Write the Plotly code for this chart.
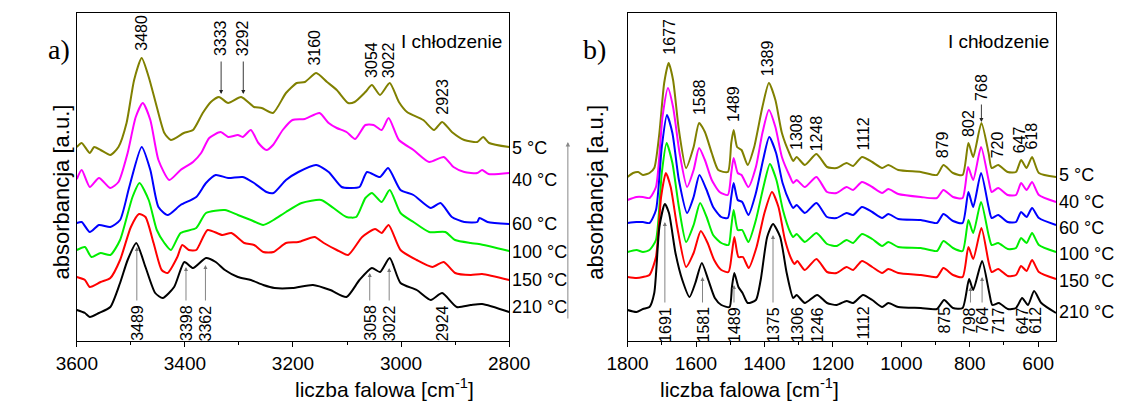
import plotly.graph_objects as go

# ---- panel a) 3600-2800 cm-1 ----
wn_a_5 = [3600, 3591, 3576, 3568, 3556, 3538, 3523, 3508, 3494, 3480, 3467, 3452, 3438, 3426, 3402, 3385, 3367, 3352, 3337, 3320,
          3296, 3272, 3258, 3237, 3213, 3193, 3178, 3157, 3137, 3119, 3098, 3086, 3066, 3054, 3039, 3021, 3004, 2989, 2959, 2939,
          2924, 2906, 2883, 2859, 2848, 2837, 2800]
ab_a_5 = [1.95, 1.99, 1.89, 1.95, 1.92, 1.87, 1.95, 2.19, 2.62, 2.84, 2.65, 2.35, 2.09, 2.02, 2.09, 2.12, 2.29, 2.40, 2.45, 2.39,
          2.45, 2.35, 2.34, 2.29, 2.49, 2.59, 2.60, 2.69, 2.60, 2.52, 2.39, 2.40, 2.50, 2.57, 2.47, 2.59, 2.40, 2.30, 2.22, 2.12,
          2.20, 2.10, 2.02, 2.00, 2.05, 1.99, 1.95]

wn_a_40 = [3600, 3591, 3576, 3559, 3538, 3523, 3506, 3491, 3478, 3464, 3449, 3429, 3408, 3385, 3370, 3355, 3334, 3320, 3302, 3293,
           3278, 3264, 3249, 3237, 3219, 3201, 3178, 3151, 3134, 3119, 3101, 3085, 3066, 3051, 3036, 3023, 3004, 2977, 2948, 2921,
           2903, 2883, 2859, 2850, 2838, 2800]
ab_a_40 = [1.63, 1.72, 1.55, 1.64, 1.54, 1.60, 1.89, 2.25, 2.39, 2.22, 1.82, 1.62, 1.72, 1.80, 1.89, 2.04, 2.10, 2.05, 2.07, 2.05,
           2.12, 1.99, 1.92, 1.97, 2.12, 2.22, 2.23, 2.29, 2.19, 2.14, 2.10, 2.03, 2.17, 2.17, 2.12, 2.24, 2.02, 1.92, 1.80, 1.85,
           1.75, 1.70, 1.69, 1.72, 1.68, 1.69]

wn_a_60 = [3600, 3591, 3576, 3559, 3538, 3520, 3503, 3480, 3464, 3449, 3432, 3408, 3379, 3361, 3343, 3320, 3293, 3272, 3249, 3236,
           3213, 3190, 3157, 3134, 3110, 3095, 3077, 3063, 3039, 3024, 3001, 2977, 2945, 2927, 2906, 2883, 2859, 2855, 2840, 2800]
ab_a_60 = [1.19, 1.20, 1.10, 1.17, 1.15, 1.22, 1.55, 1.95, 1.72, 1.35, 1.27, 1.37, 1.45, 1.59, 1.67, 1.64, 1.65, 1.59, 1.50, 1.49,
           1.62, 1.70, 1.77, 1.70, 1.55, 1.54, 1.55, 1.70, 1.65, 1.74, 1.52, 1.47, 1.34, 1.39, 1.25, 1.20, 1.20, 1.24, 1.20, 1.18]

wn_a_100 = [3600, 3585, 3573, 3556, 3538, 3520, 3497, 3484, 3467, 3452, 3438, 3426, 3408, 3379, 3361, 3326, 3302, 3278, 3255, 3236,
            3213, 3184, 3148, 3125, 3101, 3083, 3066, 3054, 3036, 3021, 3001, 2977, 2948, 2918, 2900, 2871, 2856, 2800]
ab_a_100 = [0.92, 0.95, 0.85, 0.89, 0.87, 1.02, 1.45, 1.59, 1.42, 1.12, 0.99, 0.92, 1.09, 1.14, 1.29, 1.32, 1.27, 1.22, 1.17, 1.22,
            1.30, 1.39, 1.42, 1.34, 1.25, 1.25, 1.44, 1.49, 1.40, 1.52, 1.29, 1.20, 1.10, 1.10, 1.02, 0.99, 0.98, 0.91]

wn_a_150 = [3600, 3585, 3576, 3556, 3538, 3520, 3500, 3485, 3473, 3458, 3443, 3432, 3414, 3405, 3393, 3379, 3358, 3331, 3314, 3290,
            3272, 3255, 3236, 3213, 3190, 3160, 3143, 3119, 3098, 3072, 3048, 3036, 3023, 3001, 2971, 2942, 2921, 2900, 2871, 2850,
            2800]
ab_a_150 = [0.65, 0.62, 0.55, 0.60, 0.64, 0.82, 1.15, 1.28, 1.25, 0.99, 0.72, 0.69, 0.85, 0.97, 0.92, 0.92, 1.12, 1.07, 1.09, 0.99,
            0.97, 0.90, 0.90, 0.99, 1.00, 1.05, 0.99, 0.92, 0.87, 1.05, 1.13, 1.09, 1.17, 0.92, 0.82, 0.75, 0.80, 0.69, 0.67, 0.68,
            0.62]

wn_a_210 = [3600, 3585, 3576, 3559, 3538, 3520, 3506, 3490, 3473, 3455, 3441, 3420, 3401, 3385, 3361, 3343, 3326, 3302, 3278, 3255,
            3234, 3201, 3163, 3131, 3101, 3077, 3054, 3039, 3021, 3001, 2971, 2945, 2924, 2897, 2871, 2850, 2800]
ab_a_210 = [0.32, 0.29, 0.25, 0.29, 0.35, 0.59, 0.82, 0.99, 0.75, 0.49, 0.44, 0.55, 0.80, 0.74, 0.84, 0.80, 0.72, 0.65, 0.62, 0.57,
            0.54, 0.54, 0.57, 0.52, 0.45, 0.62, 0.74, 0.70, 0.84, 0.59, 0.52, 0.42, 0.49, 0.35, 0.37, 0.38, 0.30]

# ---- panel b) 1800-550 cm-1 ----
wn_b_5 = [1800, 1784, 1769, 1755, 1736, 1722, 1707, 1693, 1680, 1667, 1650, 1629, 1607, 1591, 1574, 1554, 1535, 1507, 1497, 1490,
          1480, 1467, 1449, 1430, 1406, 1387, 1368, 1349, 1325, 1316, 1306, 1282, 1248, 1217, 1189, 1160, 1141, 1115, 1085, 1056,
          1038, 1009, 943, 896, 877, 849, 821, 804, 790, 766, 745, 736, 717, 689, 665, 650, 634, 618, 598, 548]
ab_b_5 = [1.65, 1.69, 1.70, 1.67, 1.69, 1.74, 2.09, 2.59, 2.79, 2.62, 2.12, 1.74, 1.95, 2.19, 2.10, 1.89, 1.72, 1.70, 1.99, 2.12,
          1.95, 1.92, 1.77, 1.95, 2.35, 2.59, 2.42, 2.09, 1.87, 1.81, 1.85, 1.77, 1.88, 1.75, 1.74, 1.79, 1.76, 1.85, 1.80, 1.74,
          1.77, 1.72, 1.70, 1.67, 1.77, 1.69, 1.67, 1.99, 1.85, 2.19, 1.89, 1.74, 1.77, 1.70, 1.70, 1.82, 1.74, 1.85, 1.69, 1.65]

wn_b_40 = [1800, 1774, 1755, 1736, 1717, 1698, 1682, 1667, 1648, 1626, 1607, 1591, 1574, 1554, 1531, 1507, 1497, 1490, 1478, 1467,
           1447, 1425, 1406, 1387, 1368, 1349, 1325, 1316, 1306, 1282, 1248, 1217, 1189, 1160, 1141, 1115, 1085, 1056, 1038, 1009,
           943, 896, 877, 849, 821, 805, 790, 767, 745, 736, 717, 689, 665, 650, 634, 618, 598, 548]
ab_b_40 = [1.42, 1.45, 1.45, 1.44, 1.55, 2.25, 2.54, 2.35, 1.89, 1.55, 1.72, 1.94, 1.82, 1.62, 1.50, 1.47, 1.69, 1.84, 1.69, 1.67,
           1.55, 1.75, 2.09, 2.32, 2.15, 1.85, 1.65, 1.59, 1.62, 1.55, 1.65, 1.50, 1.49, 1.55, 1.52, 1.60, 1.55, 1.49, 1.53, 1.48,
           1.45, 1.44, 1.52, 1.45, 1.44, 1.75, 1.62, 1.95, 1.62, 1.50, 1.54, 1.47, 1.47, 1.59, 1.52, 1.60, 1.47, 1.40]

wn_b_60 = [1800, 1774, 1755, 1736, 1717, 1700, 1685, 1669, 1650, 1626, 1607, 1590, 1569, 1550, 1526, 1507, 1497, 1490, 1478, 1465,
           1447, 1425, 1404, 1386, 1366, 1347, 1325, 1316, 1306, 1282, 1248, 1217, 1189, 1160, 1141, 1115, 1085, 1056, 1038, 1009,
           943, 896, 877, 849, 821, 804, 790, 767, 745, 736, 717, 689, 665, 650, 634, 618, 598, 548]
ab_b_60 = [1.19, 1.20, 1.20, 1.19, 1.32, 1.95, 2.27, 2.09, 1.62, 1.29, 1.45, 1.67, 1.52, 1.35, 1.25, 1.24, 1.45, 1.59, 1.42, 1.40,
           1.27, 1.49, 1.82, 2.05, 1.89, 1.59, 1.39, 1.34, 1.37, 1.29, 1.39, 1.25, 1.24, 1.29, 1.27, 1.35, 1.30, 1.24, 1.28, 1.23,
           1.22, 1.19, 1.28, 1.21, 1.19, 1.50, 1.35, 1.69, 1.35, 1.24, 1.27, 1.20, 1.20, 1.30, 1.25, 1.34, 1.24, 1.17]

wn_b_100 = [1800, 1774, 1755, 1736, 1717, 1700, 1686, 1669, 1650, 1629, 1607, 1588, 1569, 1550, 1526, 1505, 1497, 1490, 1478, 1465,
            1447, 1425, 1403, 1384, 1365, 1346, 1325, 1316, 1306, 1282, 1248, 1217, 1189, 1160, 1141, 1115, 1085, 1056, 1038, 1009,
            943, 896, 877, 849, 821, 804, 790, 767, 745, 736, 717, 689, 665, 650, 634, 618, 598, 548]
ab_b_100 = [0.90, 0.92, 0.90, 0.92, 1.02, 1.69, 1.99, 1.79, 1.35, 1.00, 1.17, 1.39, 1.25, 1.07, 0.99, 0.97, 1.15, 1.32, 1.12, 1.12,
            1.00, 1.22, 1.55, 1.78, 1.62, 1.32, 1.10, 1.05, 1.08, 1.00, 1.09, 0.98, 0.96, 1.02, 0.99, 1.08, 1.03, 0.96, 1.00, 0.95,
            0.94, 0.91, 1.01, 0.94, 0.91, 1.22, 1.09, 1.40, 1.07, 0.97, 0.99, 0.93, 0.94, 1.04, 0.99, 1.09, 0.97, 0.90]

wn_b_150 = [1800, 1774, 1755, 1736, 1717, 1702, 1688, 1674, 1655, 1629, 1607, 1586, 1566, 1547, 1526, 1505, 1495, 1488, 1476, 1463,
            1446, 1423, 1400, 1378, 1359, 1340, 1320, 1312, 1304, 1282, 1248, 1217, 1189, 1160, 1141, 1115, 1085, 1056, 1038, 1009,
            943, 896, 877, 849, 821, 804, 790, 766, 745, 736, 717, 689, 665, 650, 634, 618, 598, 548]
ab_b_150 = [0.65, 0.64, 0.65, 0.67, 0.85, 1.45, 1.69, 1.55, 1.15, 0.75, 0.89, 1.11, 0.99, 0.82, 0.72, 0.70, 0.89, 1.05, 0.85, 0.85,
            0.74, 0.95, 1.29, 1.50, 1.35, 1.02, 0.82, 0.78, 0.81, 0.72, 0.83, 0.70, 0.69, 0.75, 0.72, 0.81, 0.75, 0.69, 0.73, 0.69,
            0.67, 0.65, 0.74, 0.67, 0.65, 0.95, 0.83, 1.14, 0.80, 0.70, 0.73, 0.66, 0.67, 0.76, 0.71, 0.82, 0.70, 0.63]

wn_b_210 = [1800, 1774, 1755, 1736, 1722, 1707, 1691, 1679, 1660, 1640, 1619, 1602, 1583, 1564, 1545, 1526, 1502, 1495, 1488, 1476,
            1464, 1449, 1425, 1411, 1392, 1375, 1354, 1335, 1316, 1306, 1282, 1246, 1217, 1189, 1160, 1141, 1112, 1085, 1056, 1038,
            1009, 943, 896, 875, 849, 821, 802, 790, 764, 743, 734, 715, 689, 665, 647, 630, 612, 591, 548]
ab_b_210 = [0.32, 0.30, 0.33, 0.35, 0.49, 1.15, 1.38, 1.29, 0.89, 0.62, 0.45, 0.59, 0.79, 0.62, 0.44, 0.37, 0.35, 0.55, 0.69, 0.55,
            0.49, 0.39, 0.42, 0.62, 1.05, 1.18, 1.05, 0.69, 0.44, 0.47, 0.39, 0.47, 0.39, 0.37, 0.41, 0.39, 0.47, 0.42, 0.35, 0.39,
            0.35, 0.34, 0.33, 0.42, 0.34, 0.34, 0.63, 0.52, 0.81, 0.49, 0.37, 0.39, 0.33, 0.34, 0.44, 0.37, 0.51, 0.39, 0.29]

temps = ["5 °C", "40 °C", "60 °C", "100 °C", "150 °C", "210 °C"]
colors = ["#808000", "#ff00ff", "#0000ff", "#00ee00", "#ff0000", "#000000"]

# peak labels
top_a = [3480, 3333, 3292, 3160, 3054, 3022, 2923]
bot_a = [3489, 3398, 3362, 3058, 3022, 2924]
top_b = [1677, 1588, 1489, 1389, 1308, 1248, 1112, 879, 802, 768, 720, 647, 618]
bot_b = [1691, 1581, 1489, 1375, 1306, 1246, 1112, 875, 798, 764, 717, 647, 612]

FONT = "Liberation Sans, Arial, sans-serif"

series_a = [(wn_a_5, ab_a_5), (wn_a_40, ab_a_40), (wn_a_60, ab_a_60),
            (wn_a_100, ab_a_100), (wn_a_150, ab_a_150), (wn_a_210, ab_a_210)]
series_b = [(wn_b_5, ab_b_5), (wn_b_40, ab_b_40), (wn_b_60, ab_b_60),
            (wn_b_100, ab_b_100), (wn_b_150, ab_b_150), (wn_b_210, ab_b_210)]

fig = go.Figure()
for (x, y), c, t in zip(series_a, colors, temps):
    fig.add_trace(go.Scatter(x=x, y=y, mode="lines", name=t, xaxis="x", yaxis="y",
                             line=dict(color=c, width=2, shape="spline", smoothing=0.6)))
for (x, y), c, t in zip(series_b, colors, temps):
    fig.add_trace(go.Scatter(x=x, y=y, mode="lines", name=t, xaxis="x2", yaxis="y2",
                             line=dict(color=c, width=2, shape="spline", smoothing=0.6)))

ann = []


def label(xr, yr, x, y, text, anchor):
    ann.append(dict(xref=xr, yref=yr, x=x, y=y, text=str(text), showarrow=False, textangle=-90,
                    yanchor=anchor, xanchor="center", font=dict(family=FONT, size=16, color="black")))


def arrow(xr, yr, x, y_head, y_tail, color):
    ann.append(dict(xref=xr, yref=yr, axref=xr, ayref=yr, x=x, y=y_head, ax=x, ay=y_tail, text="",
                    showarrow=True, arrowhead=2, arrowsize=0.9, arrowwidth=0.9, arrowcolor=color))


# top labels, panel a
top_a_y = [2.89, 2.84, 2.84, 2.74, 2.62, 2.62, 2.25]
for w, yy in zip(top_a, top_a_y):
    label("x", "y", w, yy, w, "bottom")
for w in [3333, 3292]:
    arrow("x", "y", w, 2.48, 2.82, "#222")
# bottom labels, panel a
for w in bot_a:
    label("x", "y", w, 0.39, w, "top")
for w, yh in zip([3489, 3398, 3362, 3058, 3022], [0.95, 0.75, 0.77, 0.69, 0.74]):
    arrow("x", "y", w, yh, 0.40, "#777")

# top labels, panel b
top_b_x = [1677, 1588, 1489, 1389, 1308, 1248, 1112, 879, 804, 766, 718, 654, 621]
top_b_y = [2.85, 2.25, 2.18, 2.64, 1.90, 1.89, 1.89, 1.82, 2.03, 2.39, 1.82, 1.87, 1.90]
for w, xx, yy in zip(top_b, top_b_x, top_b_y):
    label("x2", "y2", xx, yy, w, "bottom")
arrow("x2", "y2", 766, 2.20, 2.39, "#222")
# bottom labels, panel b
bot_b_x = [1691, 1581, 1489, 1375, 1306, 1246, 1112, 875, 800, 764, 715, 645, 609]
for w, xx in zip(bot_b, bot_b_x):
    label("x2", "y2", xx, 0.37, w, "top")
for w, yh in zip([1691, 1581, 1489, 1375, 798, 764], [1.20, 0.65, 0.57, 1.07, 0.55, 0.65]):
    arrow("x2", "y2", w, yh, 0.38, "#777")

# temperature labels at right of each panel
for t, ya, yb in zip(temps, [1.94, 1.62, 1.18, 0.90, 0.62, 0.35], [1.67, 1.40, 1.14, 0.88, 0.61, 0.30]):
    ann.append(dict(xref="x domain", yref="y", x=1, y=ya, text=t, showarrow=False, xanchor="left",
                    xshift=1, font=dict(family=FONT, size=18, color="black")))
    ann.append(dict(xref="x2 domain", yref="y2", x=1, y=yb, text=t, showarrow=False, xanchor="left",
                    xshift=1, font=dict(family=FONT, size=18, color="black")))

W, H = 1129, 403
for xc, lab in [(26, "a)"), (596, "b)")]:
    ann.append(dict(xref="paper", yref="paper", x=xc / W, y=1 - 32 / H, text=lab, showarrow=False,
                    font=dict(family="Liberation Serif, Times New Roman, serif", size=28, color="black")))
for xr in [502, 1070]:
    ann.append(dict(xref="paper", yref="paper", x=xr / W, y=1 - 29 / H, text="I chłodzenie", showarrow=False,
                    xanchor="right", font=dict(family=FONT, size=19, color="black")))
for xc in [26, 596]:
    ann.append(dict(xref="paper", yref="paper", x=xc / W, y=1 - 192 / H, text="absorbancja [a.u.]",
                    showarrow=False, textangle=-90, font=dict(family=FONT, size=22, color="black")))
for xc in [282, 852]:
    ann.append(dict(xref="paper", yref="paper", x=xc / W, y=0, yanchor="bottom",
                    text="liczba falowa [cm<sup>-1</sup>]", showarrow=False,
                    font=dict(family=FONT, size=21, color="black")))
# temperature direction arrow
ann.append(dict(xref="paper", yref="paper", x=568 / W, y=1 - 142 / H, ax=0, ay=178, text="",
                showarrow=True, arrowhead=2, arrowsize=0.9, arrowwidth=1, arrowcolor="#888"))

xcommon = dict(showline=True, linecolor="black", linewidth=1, mirror=True, ticks="outside", ticklen=5,
               tickcolor="black", showgrid=False, zeroline=False,
               tickfont=dict(family=FONT, size=19, color="black"),
               minor=dict(ticks="outside", ticklen=3, tickcolor="black"))
ycommon = dict(showline=True, linecolor="black", linewidth=1, mirror=True, ticks="", showticklabels=False,
               showgrid=False, zeroline=False, range=[0.01, 3.29], domain=[62 / H, 390 / H])

fig.update_layout(
    width=W, height=H, margin=dict(l=0, r=0, t=0, b=0),
    paper_bgcolor="white", plot_bgcolor="white", showlegend=False,
    xaxis=dict(xcommon, domain=[58 / W, 507 / W], range=[3600, 2800],
               tickvals=[3600, 3400, 3200, 3000, 2800], minor_dtick=100),
    xaxis2=dict(xcommon, domain=[630 / W, 1075 / W], range=[1800, 548], anchor="y2",
                tickvals=[1800, 1600, 1400, 1200, 1000, 800, 600], minor_dtick=100),
    yaxis=dict(ycommon, anchor="x"),
    yaxis2=dict(ycommon, anchor="x2"),
    annotations=ann,
)

# page body has a default 8px margin; drop it so the figure sits at the window origin
fig.write_html("out.html", config={"displayModeBar": False},
               post_script="document.body.style.margin='0px';document.body.style.overflow='hidden';")
